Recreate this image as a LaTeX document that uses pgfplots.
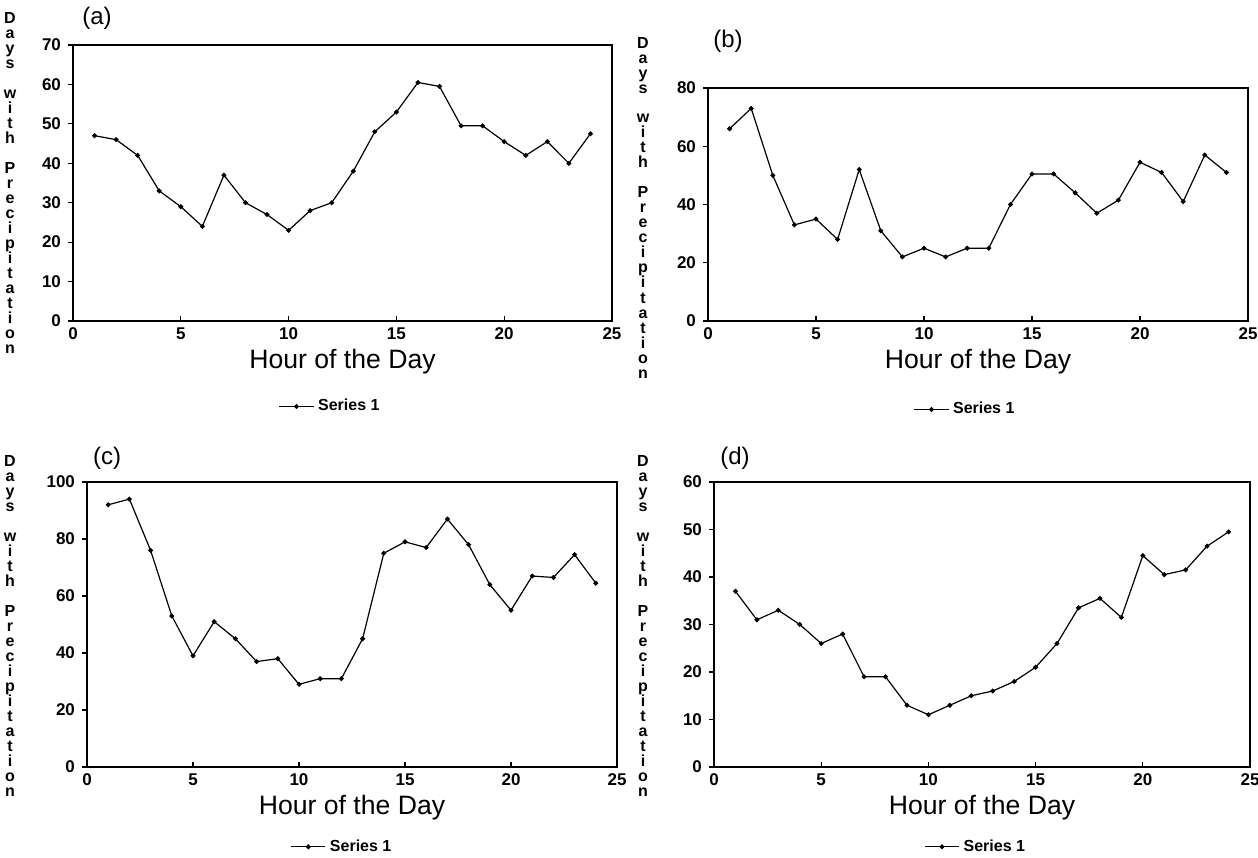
\documentclass[border=0pt]{standalone}
\usepackage{fontspec}
\setmainfont{Liberation Sans}
\usepackage{pgfplots}
\pgfplotsset{compat=1.18}

\pgfplotsset{
  panel/.style={
    scale only axis,
    anchor=south west,
    xmin=0, xmax=25, ymin=0,
    xtick={0,5,...,25},
    axis line style={line width=0.6pt},
    tick style={black, line width=0.6pt},
    xtick align=inside, ytick align=outside,
    xtick pos=bottom, ytick pos=left,
    major tick length=2.5pt,
    tick label style={font=\bfseries\fontsize{8.5}{9}\selectfont},
    /pgf/number format/assume math mode=true,
    xlabel={Hour of the Day},
    xlabel style={font=\fontsize{13.3}{15}\selectfont, at={(axis description cs:0.5,0)}, anchor=center, yshift=-20.5pt},
    legend style={draw=none, fill=none, font=\bfseries\fontsize{8}{9}\selectfont, anchor=center},
  },
  ser/.style={black, line width=0.6pt, mark=*, mark size=0.9pt, mark options={fill=black, solid}},
}

\newcommand{\daylabel}{D\\a\\y\\s\\[7.5pt]w\\i\\t\\h\\[7.5pt]P\\r\\e\\c\\i\\p\\i\\t\\a\\t\\i\\o\\n}

\begin{document}
\begin{tikzpicture}
\path[use as bounding box] (0,0) rectangle (629pt,428.5pt);

% (a)
\begin{axis}[panel, at={(36.5pt,268pt)}, width=269.5pt, height=138pt,
  ymax=70, ytick={0,10,...,70}, legend style={at={(0.479,-0.31)}}]
\addplot[ser] coordinates {(1,47) (2,46) (3,42) (4,33) (5,29) (6,24) (7,37) (8,30)
  (9,27) (10,23) (11,28) (12,30) (13,38) (14,48) (15,53) (16,60.5) (17,59.5)
  (18,49.5) (19,49.5) (20,45.5) (21,42) (22,45.5) (23,40) (24,47.5)};
\addlegendentry{Series 1}
\end{axis}

% (b)
\begin{axis}[panel, at={(354pt,268pt)}, width=270pt, height=116.5pt,
  ymax=80, ytick={0,20,...,80}, legend style={at={(0.478,-0.38)}}]
\addplot[ser] coordinates {(1,66) (2,73) (3,50) (4,33) (5,35) (6,28) (7,52) (8,31)
  (9,22) (10,25) (11,22) (12,25) (13,25) (14,40) (15,50.5) (16,50.5) (17,44)
  (18,37) (19,41.5) (20,54.5) (21,51) (22,41) (23,57) (24,51)};
\addlegendentry{Series 1}
\end{axis}

% (c)
\begin{axis}[panel, at={(43.5pt,45pt)}, width=265pt, height=142.5pt,
  ymax=100, ytick={0,20,...,100}, legend style={at={(0.483,-0.28)}}]
\addplot[ser] coordinates {(1,92) (2,94) (3,76) (4,53) (5,39) (6,51) (7,45) (8,37)
  (9,38) (10,29) (11,31) (12,31) (13,45) (14,75) (15,79) (16,77) (17,87)
  (18,78) (19,64) (20,55) (21,67) (22,66.5) (23,74.5) (24,64.5)};
\addlegendentry{Series 1}
\end{axis}

% (d)
\begin{axis}[panel, at={(357pt,45pt)}, width=268pt, height=142.5pt,
  ymax=60, ytick={0,10,...,60}, legend style={at={(0.49,-0.28)}}]
\addplot[ser] coordinates {(1,37) (2,31) (3,33) (4,30) (5,26) (6,28) (7,19) (8,19)
  (9,13) (10,11) (11,13) (12,15) (13,16) (14,18) (15,21) (16,26) (17,33.5)
  (18,35.5) (19,31.5) (20,44.5) (21,40.5) (22,41.5) (23,46.5) (24,49.5)};
\addlegendentry{Series 1}
\end{axis}

\tikzset{ylab/.style={align=center, font=\bfseries\fontsize{8}{7.5}\selectfont, inner sep=0pt}}
\node[ylab] at (5pt,336.75pt) {\daylabel};
\node[ylab] at (321.5pt,324.75pt) {\daylabel};
\node[ylab] at (5pt,115.5pt) {\daylabel};
\node[ylab] at (321.5pt,115.5pt) {\daylabel};

\tikzset{plab/.style={font=\fontsize{12}{14}\selectfont, inner sep=0pt}}
\node[plab] at (48.5pt,419.5pt) {(a)};
\node[plab] at (364pt,408pt) {(b)};
\node[plab] at (53.5pt,199.5pt) {(c)};
\node[plab] at (367.5pt,199.5pt) {(d)};
\end{tikzpicture}
\end{document}
